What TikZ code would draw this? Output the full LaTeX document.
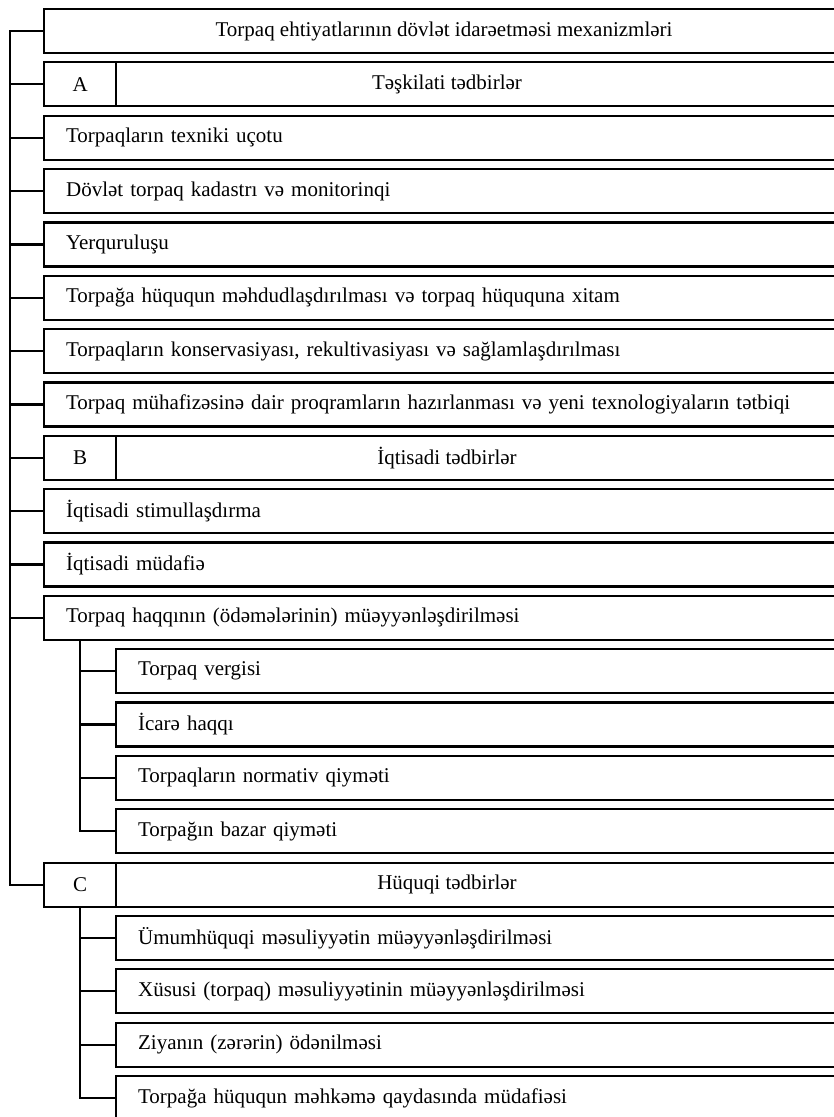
\documentclass[tikz,border=0pt]{standalone}
\usepackage{fontspec}
\setmainfont{Liberation Serif}
\usetikzlibrary{positioning}
\tikzset{
	box/.style={draw, line width=2.2pt, minimum height=44pt, inner ysep=0pt, anchor=west},
	mainbox/.style={box, inner xsep=22pt, text width=763pt, align=left},
	subbox/.style={box, inner xsep=22pt, text width=691pt, align=left},
	letterbox/.style={box, inner xsep=0pt, minimum width=72pt},
	headbox/.style={box, inner xsep=0pt, minimum width=735pt},
	topbox/.style={box, inner xsep=0pt, minimum width=807pt},
	link/.style={line width=2.2pt}
}
\begin{document}
\begin{tikzpicture}[x=1pt,y=-1pt,font=\fontsize{21}{24}\selectfont]
	\clip (0,0) rectangle (834,1117);
	% top box
	\node[topbox] (top) at (43,31) {};
	\node at (444,31) {Torpaq ehtiyatlarının dövlət idarəetməsi mexanizmləri};
	% A, B, C
	\foreach \i/\l/\t in {1/A/Təşkilati tədbirlər,8/B/İqtisadi tədbirlər,16/C/Hüquqi tədbirlər}{
		\node[letterbox] (\l) at (43,{31+53.35*\i}) {\l};
		\node[headbox] (\l h) at (115,{31+53.35*\i}) {};
		\node at (447,{31+53.35*\i}) {\t};
	}
	% main rows
	\foreach \i/\t in {2/Torpaqların texniki uçotu,
		3/Dövlət torpaq kadastrı və monitorinqi,
		4/Yerquruluşu,
		5/Torpağa hüququn məhdudlaşdırılması və torpaq hüququna xitam,
		6/{Torpaqların konservasiyası, rekultivasiyası və sağlamlaşdırılması},
		7/Torpaq mühafizəsinə dair proqramların hazırlanması və yeni texnologiyaların tətbiqi,
		9/İqtisadi stimullaşdırma,
		10/İqtisadi müdafiə,
		11/Torpaq haqqının (ödəmələrinin) müəyyənləşdirilməsi}
		\node[mainbox] (r\i) at (43,{31+53.35*\i}) {\t};
	% sub rows
	\foreach \i/\t in {12/Torpaq vergisi,
		13/İcarə haqqı,
		14/Torpaqların normativ qiyməti,
		15/Torpağın bazar qiyməti,
		17/Ümumhüquqi məsuliyyətin müəyyənləşdirilməsi,
		18/Xüsusi (torpaq) məsuliyyətinin müəyyənləşdirilməsi,
		19/Ziyanın (zərərin) ödənilməsi,
		20/Torpağa hüququn məhkəmə qaydasında müdafiəsi}
		\node[subbox] (q\i) at (115,{31+53.35*\i}) {\t};
	% connectors
	\coordinate (t0) at (10,31);
	\draw[link] (top.west) -- (t0) |- (C.west);
	\foreach \n in {A,r2,r3,r4,r5,r6,r7,B,r9,r10,r11}
		\draw[link] (\n.west) -- (t0 |- \n.west);
	\coordinate (s1) at ([xshift=37pt]r11.south west);
	\draw[link] (s1) |- (q15.west);
	\foreach \n in {q12,q13,q14}
		\draw[link] (\n.west) -- (s1 |- \n.west);
	\coordinate (s2) at ([xshift=37pt]C.south west);
	\draw[link] (s2) |- (q20.west);
	\foreach \n in {q17,q18,q19}
		\draw[link] (\n.west) -- (s2 |- \n.west);
\end{tikzpicture}
\end{document}
